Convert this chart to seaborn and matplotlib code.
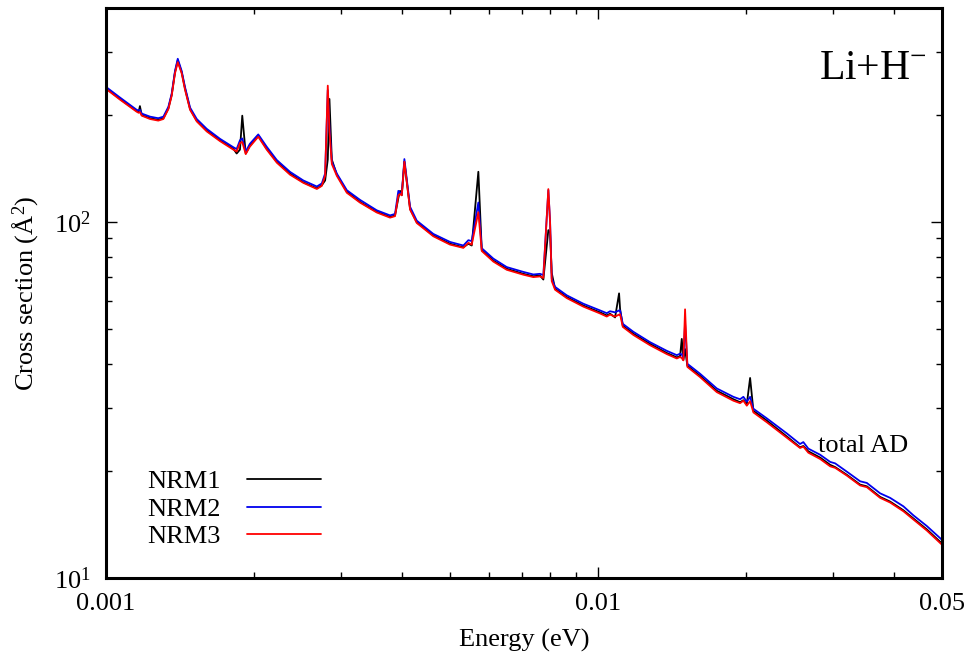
import numpy as np
import pandas as pd
import matplotlib
matplotlib.use("Agg")
import matplotlib.pyplot as plt
import matplotlib.ticker as mticker
import seaborn as sns

# ---------------- data ----------------
energy = [
    0.001000, 0.001068, 0.001154, 0.001165, 0.001172, 0.001182, 0.001229, 0.001277,
    0.001308, 0.001339, 0.001360, 0.001381, 0.001399, 0.001425, 0.001447, 0.001482,
    0.001529, 0.001602, 0.001705, 0.001814, 0.001843, 0.001872, 0.001892, 0.001923,
    0.001960, 0.002039, 0.002121, 0.002224, 0.002366, 0.002518, 0.002682, 0.002745,
    0.002788, 0.002823, 0.002845, 0.002877, 0.002945, 0.003086, 0.003284, 0.003550,
    0.003778, 0.003867, 0.003928, 0.003959, 0.003991, 0.004040, 0.004149, 0.004281,
    0.004626, 0.005003, 0.005324, 0.005450, 0.005537, 0.005711, 0.005803, 0.006126,
    0.006522, 0.007049, 0.007387, 0.007622, 0.007741, 0.007924, 0.007988, 0.008051,
    0.008177, 0.008637, 0.009336, 0.010094, 0.010415, 0.010578, 0.010829, 0.011033,
    0.011085, 0.011226, 0.011797, 0.012756, 0.013793, 0.014454, 0.014678, 0.014795,
    0.014906, 0.015025, 0.015188, 0.016118, 0.017428, 0.018836, 0.019436, 0.019740,
    0.020057, 0.020370, 0.020687, 0.022026, 0.024180, 0.025730, 0.026131, 0.026749,
    0.028272, 0.029625, 0.030326, 0.032034, 0.034087, 0.035175, 0.037425, 0.039217,
    0.041741, 0.043740, 0.046564, 0.050000,
]

nrm1 = [
    238, 222, 205.5, 204, 212, 200, 196, 194,
    196, 209, 228, 264, 285, 264, 238, 208,
    193, 181, 170, 161, 156, 160, 199.3, 156,
    164, 175, 161, 148, 137, 129.5, 124.5, 127,
    131, 150, 222, 150, 136, 122, 114, 107,
    103.5, 104.5, 117, 122.5, 119.1, 148, 109, 100,
    91.8, 87, 85, 87, 86, 138.6, 83.5, 78,
    74, 71.6, 70.5, 70.8, 69, 95, 93.5, 72,
    65, 61.6, 58.3, 55.8, 54.7, 55.3, 54, 63.1,
    57, 51.2, 48.6, 45.5, 42.9, 41.7, 42, 47.0,
    41, 44, 39.5, 37, 33.6, 31.8, 31.2, 31.6,
    30.8, 36.5, 29.5, 27.7, 25, 23.3, 23.5, 22.7,
    21.8, 20.8, 20.5, 19.5, 18.3, 18.1, 16.9, 16.4,
    15.5, 14.7, 13.7, 12.5,
]

nrm2 = [
    240, 224, 207, 206, 207, 202, 198, 196,
    198, 211, 230, 266, 288, 266, 240, 210,
    195, 183, 171.5, 162.5, 160.5, 170, 172, 158,
    166, 176.5, 163, 149.5, 138.5, 131, 126, 128.5,
    137, 235, 185, 148, 137, 123, 115.5, 108,
    104.5, 105.5, 122.5, 121, 120, 150.5, 110.5, 101,
    92.7, 88, 86, 89, 88.5, 113.6, 84.5, 79,
    74.8, 72.5, 71.3, 71.6, 71, 123, 101, 69.5,
    65.8, 62.3, 59, 56.5, 55.5, 56.2, 55.8, 56.5,
    56.5, 51.8, 49.2, 46, 43.5, 42.3, 42.7, 42.5,
    41.5, 52, 40, 37.5, 34.1, 32.3, 31.8, 32.3,
    31.3, 32.3, 29.9, 28.1, 25.5, 23.8, 24.1, 23.1,
    22.2, 21.2, 21.0, 19.9, 18.7, 18.5, 17.3, 16.8,
    15.9, 15.0, 14.0, 12.8,
]

nrm3 = [
    237, 221, 204.5, 203, 204, 199.3, 195, 193,
    195, 208, 227, 262, 281.7, 262, 236, 207,
    192, 180, 169, 160, 158, 167, 168, 155.4,
    163, 173.9, 160, 147, 136, 129, 124, 126.5,
    135, 242, 180, 145.7, 135, 121, 113.5, 106.5,
    103, 104, 119, 120, 119, 147.9, 108.5, 99.5,
    91.3, 86.5, 84.7, 87.5, 86.5, 106.7, 83, 77.5,
    73.5, 71.2, 70.1, 70.4, 69.7, 123.9, 100, 68.3,
    64.6, 61.2, 57.9, 55.4, 54.3, 55, 54.3, 55,
    55.1, 50.8, 48.2, 45.1, 42.6, 41.4, 41.8, 41.5,
    40.9, 56.9, 39.2, 36.7, 33.3, 31.5, 31, 31.5,
    30.5, 31.4, 29.2, 27.4, 24.8, 23.2, 23.4, 22.5,
    21.6, 20.6, 20.4, 19.4, 18.2, 18.0, 16.8, 16.3,
    15.4, 14.6, 13.6, 12.4,
]

series_names = ["NRM1", "NRM2", "NRM3"]
series_colors = ["#000000", "#0000ee", "#ff0000"]
x_ticks = [0.001, 0.01, 0.05]
x_tick_labels = ["0.001", "0.01", "0.05"]

# ---------------- style ----------------
sns.set_theme(style="ticks")
plt.rcParams["font.family"] = ["Liberation Serif", "DejaVu Serif"]
plt.rcParams["mathtext.fontset"] = "custom"
plt.rcParams["mathtext.rm"] = "Liberation Serif"
plt.rcParams["mathtext.it"] = "Liberation Serif:italic"
plt.rcParams["mathtext.bf"] = "Liberation Serif:bold"
plt.rcParams["text.color"] = "black"
plt.rcParams["axes.labelcolor"] = "black"
plt.rcParams["xtick.color"] = "black"
plt.rcParams["ytick.color"] = "black"
plt.rcParams["legend.labelcolor"] = "black"

df = pd.DataFrame({
    "energy": energy * 3,
    "sigma": nrm1 + nrm2 + nrm3,
    "model": [series_names[0]] * len(nrm1) + [series_names[1]] * len(nrm2) + [series_names[2]] * len(nrm3),
})

fig = plt.figure(figsize=(9.74, 6.65), dpi=100)
ax = fig.add_axes([106 / 974, 1 - 578 / 665, 836 / 974, 570 / 665])

sns.lineplot(data=df, x="energy", y="sigma", hue="model", hue_order=series_names,
             palette=dict(zip(series_names, series_colors)), estimator=None,
             linewidth=1.3, ax=ax)

ax.set_xscale("log")
ax.set_yscale("log")
ax.set_xlim(0.001, 0.05)
ax.set_ylim(10, 400)

ax.xaxis.set_major_locator(mticker.FixedLocator(x_ticks))
ax.xaxis.set_major_formatter(mticker.FixedFormatter(x_tick_labels))
ax.xaxis.set_minor_locator(mticker.LogLocator(base=10, subs=np.arange(2, 10)))
ax.xaxis.set_minor_formatter(mticker.NullFormatter())
ax.yaxis.set_major_locator(mticker.LogLocator(base=10))
ax.yaxis.set_major_formatter(mticker.LogFormatterSciNotation())
ax.yaxis.set_minor_locator(mticker.LogLocator(base=10, subs=np.arange(2, 10)))
ax.yaxis.set_minor_formatter(mticker.NullFormatter())

ax.tick_params(which="both", direction="in", top=True, right=True, colors="black",
               labelcolor="black", labelsize=19, pad=11)
ax.tick_params(which="major", length=8, width=1.0)
ax.tick_params(which="minor", length=4.5, width=1.0)
for s in ax.spines.values():
    s.set_linewidth(2.2)
    s.set_color("black")

ax.set_xlabel("Energy (eV)", fontsize=19, labelpad=10, color="black")
ax.set_ylabel("Cross section (Å$^2$)", fontsize=19, labelpad=9, color="black")

ax.text(0.853, 0.875, "Li+H$^{-}$", transform=ax.transAxes, fontsize=30,
        va="baseline", ha="left", color="black")
ax.text(0.8517, 0.221, "total AD", transform=ax.transAxes, fontsize=19,
        va="baseline", ha="left", color="black")

leg = ax.legend(loc="lower left", bbox_to_anchor=(0.049, 0.052), frameon=False,
                markerfirst=False, fontsize=19, handlelength=2.8,
                handletextpad=1.0, labelspacing=0.15, borderpad=0,
                borderaxespad=0)
for line in leg.get_lines():
    line.set_linewidth(1.3)
for t in leg.get_texts():
    t.set_color("black")

fig.savefig("out.png", dpi=100)
